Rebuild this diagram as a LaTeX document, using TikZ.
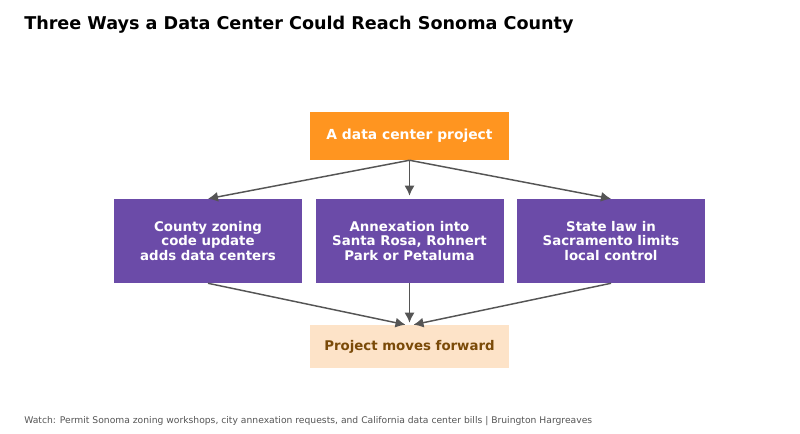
\documentclass[tikz,border=0pt]{standalone}
\usepackage{fontspec}
\setmainfont{DejaVu Sans}
\usepackage{tikz}
\usetikzlibrary{arrows.meta}
\definecolor{orangebox}{HTML}{FF9520}
\definecolor{purplebox}{HTML}{6B4BA8}
\definecolor{peachbox}{HTML}{FDE3C8}
\definecolor{browntext}{HTML}{7A4A08}
\definecolor{arrowgray}{HTML}{555555}
\definecolor{notegray}{HTML}{555555}
\tikzset{
	box/.style={inner sep=0pt,align=center,font=\bfseries\fontsize{10pt}{10.9pt}\selectfont},
	topbox/.style={box,fill=orangebox,text=white,minimum width=149.25pt,minimum height=36pt,font=\bfseries\fontsize{10.4pt}{11pt}\selectfont},
	waybox/.style={box,fill=purplebox,text=white,minimum width=141pt,minimum height=63pt},
	endbox/.style={box,fill=peachbox,text=browntext,minimum width=149.25pt,minimum height=32.25pt},
	link/.style={draw=arrowgray,line width=1.1pt,-{Latex[length=7.5pt,width=7.5pt]}}
}
\begin{document}
\begin{tikzpicture}[x=0.75pt,y=-0.75pt]
				\useasboundingbox[fill=white] (0,0) rectangle (800,433);
				\node[anchor=west,inner sep=0pt,font=\bfseries\fontsize{13.2pt}{15pt}\selectfont] (title) at (24,25) {Three Ways a Data Center Could Reach Sonoma County};
				\node[topbox] (project) at (409.5,136) {A data center project};
				\node[waybox] (county) at (208,241) {County zoning\\code update\\adds data centers};
				\node[waybox] (annex) at (409.5,241) {Annexation into\\Santa Rosa, Rohnert\\Park or Petaluma};
				\node[waybox] (state) at (611,241) {State law in\\Sacramento limits\\local control};
				\node[endbox] (forward) at (409.5,346.5) {Project moves forward};
				\draw[link] (project.south) -- (county.north);
				\draw[link] (project.south) -- ([yshift=2.25pt]annex.north);
				\draw[link] (project.south) -- (state.north);
				\draw[link] (county.south) -- ([xshift=-3pt]forward.north);
				\draw[link] (annex.south) -- ([yshift=1.5pt]forward.north);
				\draw[link] (state.south) -- ([xshift=3pt]forward.north);
				\node[anchor=west,inner sep=0pt,text=notegray,font=\fontsize{6.9pt}{8pt}\selectfont] (note) at (24,421) {Watch: Permit Sonoma zoning workshops, city annexation requests, and California data center bills | Bruington Hargreaves};
			\end{tikzpicture}
\end{document}
